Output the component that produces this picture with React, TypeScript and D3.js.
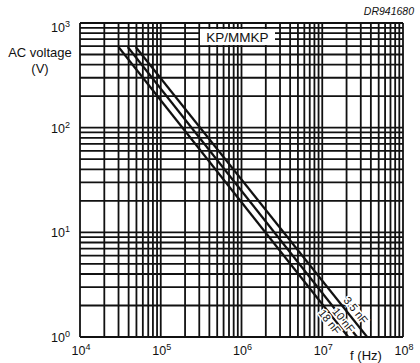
import React from 'react';
import * as d3 from 'd3';

// Axis ranges (log-log)
const freqDomain: [number, number] = [1e4, 1e8];
const voltDomain: [number, number] = [1, 1e3];
const xTickExponents = [4, 5, 6, 7, 8];
const yTickExponents = [0, 1, 2, 3];

// Maximum AC voltage lines, one per capacitance (start and end points)
const capacitors = ['18 nF', '10 nF', '3.5 nF'];
const startFreq = [3.0e4, 3.9e4, 4.9e4];
const startVolt = [590, 590, 590];
const endFreq = [2.1e7, 2.7e7, 3.6e7];
const endVolt = [1, 1, 1];
// Where each rotated label sits along its line (voltage) and its sideways shift
const labelVolt = [1.5, 1.45, 1.62];
const labelShift = [9, 4, -4];

const W = 420;
const H = 363;
const L = 80, R = 403, T = 23, B = 337;
const FONT = '"Liberation Sans", Arial, Helvetica, sans-serif';

export default function App() {
  const x = d3.scaleLog().domain(freqDomain).range([L, R]);
  const y = d3.scaleLog().domain(voltDomain).range([B, T]);

  const xGrid: number[] = [];
  for (let d = 4; d < 8; d++) for (let m = 1; m <= 9; m++) xGrid.push(m * 10 ** d);
  xGrid.push(1e8);
  const yGrid: number[] = [];
  for (let d = 0; d < 3; d++) for (let m = 1; m <= 9; m++) yGrid.push(m * 10 ** d);
  yGrid.push(1e3);

  const line = d3
    .line<[number, number]>()
    .x((d) => x(d[0]))
    .y((d) => y(d[1]));

  const angle = (i: number) => {
    const dx = x(endFreq[i]) - x(startFreq[i]);
    const dy = y(endVolt[i]) - y(startVolt[i]);
    return (Math.atan2(dy, dx) * 180) / Math.PI;
  };
  const freqAt = (i: number, v: number) => {
    const t =
      (Math.log10(v) - Math.log10(startVolt[i])) /
      (Math.log10(endVolt[i]) - Math.log10(startVolt[i]));
    return 10 ** (Math.log10(startFreq[i]) + t * (Math.log10(endFreq[i]) - Math.log10(startFreq[i])));
  };

  return (
    <div style={{ position: 'fixed', left: 0, top: 0 }}>
      <svg width={W} height={H} style={{ display: 'block', background: '#fff' }}>
        <g stroke="#111" strokeWidth={1.8} fill="none">
          {xGrid.map((v) => (
            <line key={'vx' + v} x1={x(v)} x2={x(v)} y1={T} y2={B} />
          ))}
          {yGrid.map((v) => (
            <line key={'hy' + v} x1={L} x2={R} y1={y(v)} y2={y(v)} />
          ))}
        </g>

        {/* title box over the grid */}
        <rect x={200} y={29} width={75} height={16} fill="#fff" />
        <text x={237.5} y={42} textAnchor="middle" fontFamily={FONT} fontSize={13.5} fill="#111">
          KP/MMKP
        </text>

        <g stroke="#111" strokeWidth={2.2} fill="none">
          {capacitors.map((c, i) => (
            <path
              key={c}
              d={line([
                [startFreq[i], startVolt[i]],
                [endFreq[i], endVolt[i]],
              ]) as string}
            />
          ))}
        </g>

        {capacitors.map((c, i) => {
          const px = x(freqAt(i, labelVolt[i]));
          const py = y(labelVolt[i]);
          const a = angle(i);
          return (
            <text
              key={'l' + c}
              transform={`translate(${px},${py}) rotate(${a}) translate(0,${labelShift[i]})`}
              textAnchor="middle"
              fontFamily={FONT}
              fontSize={11}
              fill="#111"
              stroke="#fff"
              strokeWidth={3}
              paintOrder="stroke"
            >
              {c}
            </text>
          );
        })}

        {xTickExponents.map((e) => (
          <text
            key={'xt' + e}
            x={x(10 ** e) + 1}
            y={355}
            textAnchor="middle"
            fontFamily={FONT}
            fontSize={12.5}
            fill="#111"
          >
            10
            <tspan fontSize={9} dy={-5}>
              {e}
            </tspan>
          </text>
        ))}

        {yTickExponents.map((e) => (
          <text
            key={'yt' + e}
            x={70}
            y={Math.max(y(10 ** e) + 5, 32)}
            textAnchor="end"
            fontFamily={FONT}
            fontSize={12.5}
            fill="#111"
          >
            10
            <tspan fontSize={9} dy={-5}>
              {e}
            </tspan>
          </text>
        ))}

        <text x={40} y={57} textAnchor="middle" fontFamily={FONT} fontSize={13} fill="#111">
          AC voltage
        </text>
        <text x={40} y={73} textAnchor="middle" fontFamily={FONT} fontSize={13} fill="#111">
          (V)
        </text>
        <text x={366} y={360} textAnchor="middle" fontFamily={FONT} fontSize={13} fill="#111">
          f (Hz)
        </text>
        <text
          x={414}
          y={15}
          textAnchor="end"
          fontFamily={FONT}
          fontSize={10.5}
          fontStyle="italic"
          fill="#111"
        >
          DR941680
        </text>
      </svg>
    </div>
  );
}
